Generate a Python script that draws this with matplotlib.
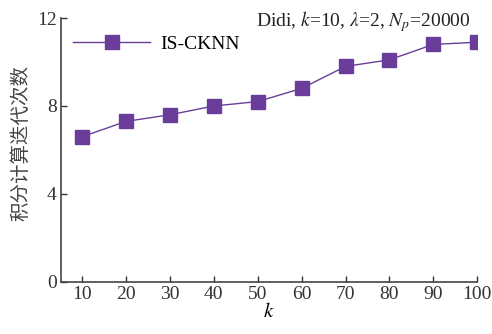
import matplotlib
matplotlib.use('Agg')
import matplotlib.pyplot as plt

plt.rcParams['font.family'] = ['Liberation Serif', 'Noto Sans CJK SC']
plt.rcParams['mathtext.fontset'] = 'stix'

k_values = [10, 20, 30, 40, 50, 60, 70, 80, 90, 100]
iterations = [6.6, 7.3, 7.6, 8.0, 8.2, 8.8, 9.8, 10.1, 10.8, 10.9]
y_ticks = [0, 4, 8, 12]

fig = plt.figure(figsize=(4.92, 3.34), dpi=100)
ax = fig.add_axes([0.124, 0.156, 0.846, 0.79])

ax.plot(k_values, iterations, color='#6a3d9a', lw=1.0, marker='s',
        markersize=10, markerfacecolor='#6a3d9a', markeredgecolor='#6a3d9a',
        label='IS-CKNN')

ax.set_xlim(5.2, 100)
ax.set_ylim(0, 12)
ax.set_xticks(k_values)
ax.set_yticks(y_ticks)
ax.tick_params(direction='in', length=4, width=1, labelsize=14, colors='#333333', pad=3)
for s in ['top', 'right']:
    ax.spines[s].set_visible(False)
for s in ['left', 'bottom']:
    ax.spines[s].set_color('#444444')
    ax.spines[s].set_linewidth(1.2)

ax.set_xlabel('$k$', fontsize=15, labelpad=0)
ax.set_ylabel('积分计算迭代次数', fontsize=14, family=['Noto Sans CJK SC'],
              color='#444444')
ax.yaxis.set_label_coords(-0.072, 0.527)

ax.legend(loc='upper left', frameon=False, fontsize=14, handlelength=4,
          bbox_to_anchor=(0.0, 0.98), borderaxespad=0.2, handletextpad=0.5)
ax.text(0.985, 1.035, r'Didi, $k$=10, $\lambda$=2, $N_p$=20000', transform=ax.transAxes,
        ha='right', va='top', fontsize=14, color='#222222')

fig.savefig('out.png', dpi=100)
